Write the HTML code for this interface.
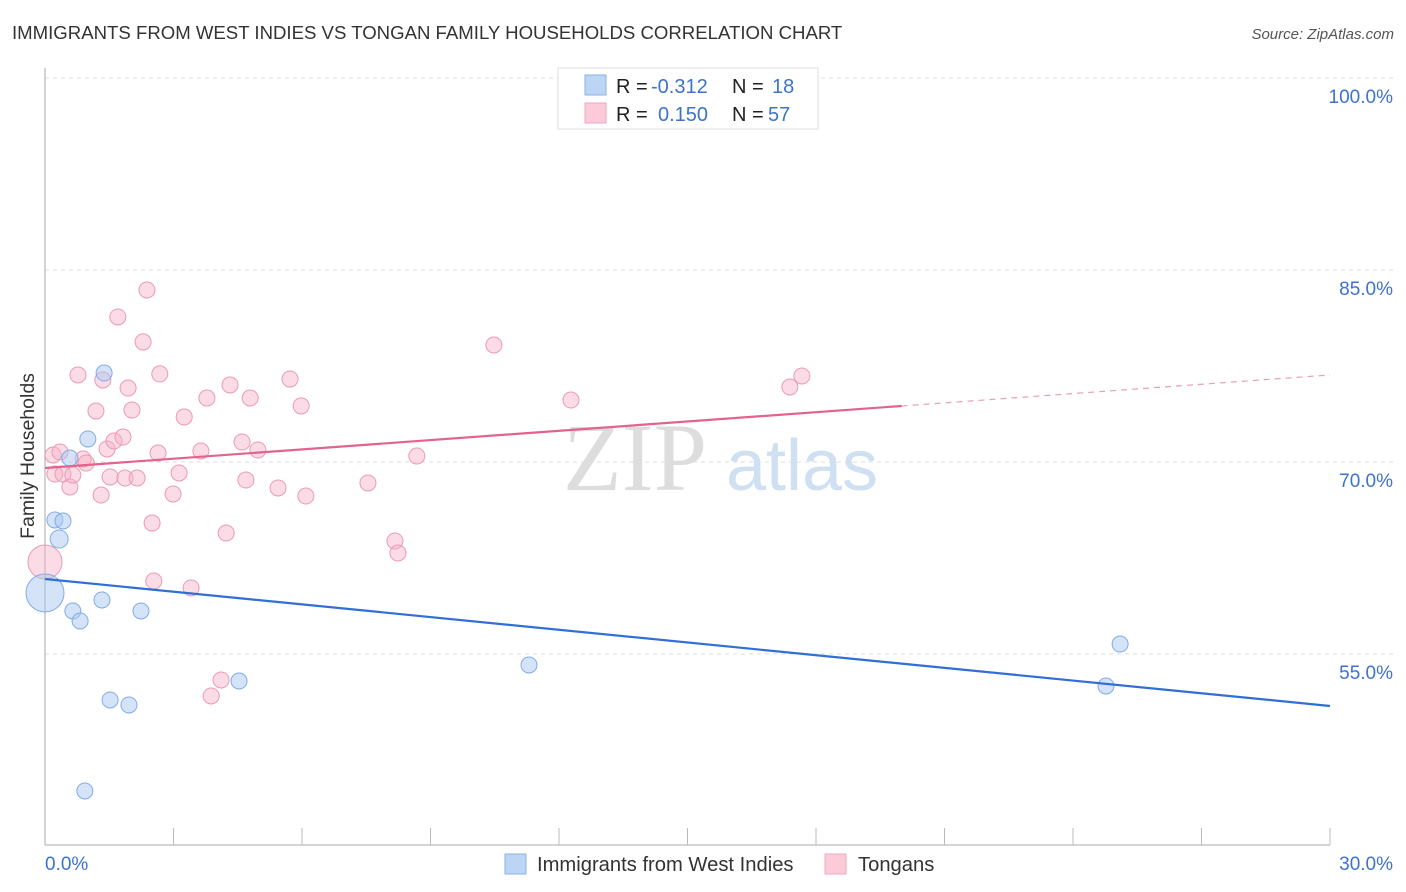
<!DOCTYPE html>
<html><head><meta charset="utf-8"><style>
body{margin:0;background:#fff;font-family:"Liberation Sans",sans-serif;}
svg{display:block}
</style></head><body>
<svg id="c" width="1406" height="892" xmlns="http://www.w3.org/2000/svg">
<text x="12" y="39" font-size="18.6" fill="#333">IMMIGRANTS FROM WEST INDIES VS TONGAN FAMILY HOUSEHOLDS CORRELATION CHART</text>
<text x="1394" y="39" font-size="15" fill="#555" font-style="italic" text-anchor="end">Source: ZipAtlas.com</text>
<text x="34" y="456" font-size="19.5" fill="#333" text-anchor="middle" transform="rotate(-90 34 456)">Family Households</text>
<g>
<text x="635" y="490" font-size="96" fill="#ddd" font-family="Liberation Serif,serif" text-anchor="middle">ZIP</text>
<text x="802" y="490" font-size="72" fill="#cfe0f3" text-anchor="middle">atlas</text>
</g>
<g id="grid"></g><g id="axes"></g><g id="marks"></g>
<g>
<rect x="558" y="68" width="260" height="61" fill="#fff" stroke="#ddd"/>
<rect x="585" y="75" width="21" height="20" fill="#bcd5f5" stroke="#8ab2e6"/>
<rect x="585" y="103" width="21" height="20" fill="#fbcbd9" stroke="#eea7bd"/>
<text x="616" y="93" font-size="20" fill="#222">R =</text>
<text x="651" y="93" font-size="20" fill="#3d73cc">-0.312</text>
<text x="732" y="93" font-size="20" fill="#222">N =</text>
<text x="772" y="93" font-size="20" fill="#3d73cc">18</text>
<text x="616" y="121" font-size="20" fill="#222">R =</text>
<text x="658" y="121" font-size="20" fill="#3d73cc">0.150</text>
<text x="732" y="121" font-size="20" fill="#222">N =</text>
<text x="768" y="121" font-size="20" fill="#3d73cc">57</text>
</g>
<g>
<rect x="505" y="854" width="21" height="20" fill="#bcd5f5" stroke="#8ab2e6"/>
<text x="537" y="871" font-size="20.2" fill="#333">Immigrants from West Indies</text>
<rect x="825" y="854" width="21" height="20" fill="#fbcbd9" stroke="#eea7bd"/>
<text x="858" y="871" font-size="20.2" fill="#333">Tongans</text>
</g>
</svg>
<script>
const blueX=[0,0.23,0.42,0.33,0.58,1.00,1.38,0.65,0.82,1.33,2.24,1.52,1.96,0.93,4.53,11.30,25.10,24.77];
const blueY=[59.77,65.47,65.39,63.98,70.31,71.80,76.95,58.36,57.58,59.22,58.36,51.41,51.02,44.30,52.89,54.14,55.78,52.50];
const blueR=[19,8,8,9,8,8,8,8,8,8,8,8,8,8,8,8,8,8];
const pinkX=[0,0.23,0.19,0.35,0.42,0.58,0.65,0.77,0.89,0.96,1.19,1.31,1.35,1.45,1.52,1.61,1.70,1.82,1.87,1.94,2.03,2.15,2.29,2.38,2.50,2.54,2.64,2.68,2.99,3.13,3.25,3.41,3.64,3.78,3.88,4.11,4.23,4.32,4.60,4.69,4.79,4.97,5.44,5.72,5.98,6.09,7.54,8.17,8.24,8.68,10.48,12.28,17.39,17.67];
const pinkY=[62.19,69.06,70.55,70.78,69.06,68.05,68.98,76.80,70.23,69.92,73.98,67.42,76.41,71.02,68.83,71.64,81.33,71.95,68.75,75.78,74.06,68.75,79.38,83.44,65.23,60.70,70.70,76.88,67.50,69.14,73.52,60.16,70.86,75.00,51.72,52.97,64.45,76.02,71.56,68.59,75.00,70.94,67.97,76.48,74.38,67.34,68.36,63.83,62.89,70.47,79.14,74.84,75.86,76.72];
const blueTrend=[60.86,50.94];
const pinkTrend=[69.53,76.80];
const yTicks=[100,85,70,55];
const NS="http://www.w3.org/2000/svg";
const X=v=>45+v/30*1285, Y=v=>78+(100-v)*12.8;
function mk(t,a,p){const e=document.createElementNS(NS,t);for(const k in a)e.setAttribute(k,a[k]);document.getElementById(p).appendChild(e);return e;}
yTicks.forEach(t=>{
 const l=mk('line',{x1:45,x2:1394,y1:Y(t),y2:Y(t),stroke:'#ddd','stroke-dasharray':'4,4'},'grid');
 
 
 const tx=mk('text',{x:1393,y:Y(t)+25,'font-size':19,fill:'#3d73cc','text-anchor':'end'},'grid');tx.textContent=t.toFixed(1)+'%';
 
 
});
mk('line',{x1:45,x2:45,y1:68,y2:845,stroke:'#aaa'},'axes');
mk('line',{x1:45,x2:1330,y1:845,y2:845,stroke:'#aaa'},'axes');
for(let i=1;i<=10;i++){const t=mk('line',{x1:X(i*3),x2:X(i*3),y1:828,y2:845,stroke:'#bbb'},'axes');
 
 }
const x0=mk('text',{x:45,y:870,'font-size':19,fill:'#3d73cc'},'axes');x0.textContent='0.0%';


const x1=mk('text',{x:1393,y:870,'font-size':19,fill:'#3d73cc','text-anchor':'end'},'axes');x1.textContent='30.0%';


pinkX.forEach((v,i)=>{const c=mk('circle',{cx:X(v),cy:Y(pinkY[i]),r:i==0?17:8,fill:'rgba(246,178,200,0.45)',stroke:'#eb9ab3','stroke-width':1},'marks');
 
 });
blueX.forEach((v,i)=>{const c=mk('circle',{cx:X(v),cy:Y(blueY[i]),r:blueR[i],fill:'rgba(170,200,242,0.5)',stroke:'#80ace6','stroke-width':1},'marks');
 
 });
const pAt=x=>pinkTrend[0]+(pinkTrend[1]-pinkTrend[0])*x/30;
const bl=mk('line',{x1:X(0),y1:Y(blueTrend[0]),x2:X(30),y2:Y(blueTrend[1]),stroke:'#2f6fd6','stroke-width':2.2},'marks');


const pl=mk('line',{x1:X(0),y1:Y(pAt(0)),x2:X(20),y2:Y(pAt(20)),stroke:'#e2648d','stroke-width':2.2},'marks');


const pd=mk('line',{x1:X(20),y1:Y(pAt(20)),x2:X(30),y2:Y(pAt(30)),stroke:'#e9a0b6','stroke-width':1.2,'stroke-dasharray':'6,5'},'marks');


</script>
</body></html>
